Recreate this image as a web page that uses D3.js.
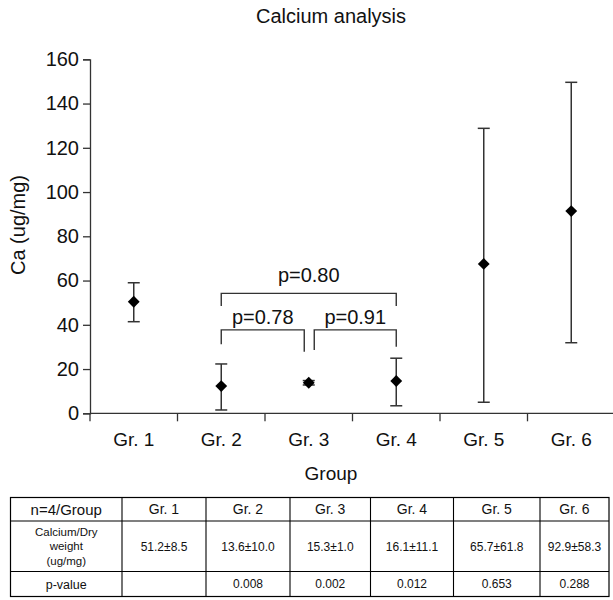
<!DOCTYPE html>
<html>
<head>
<meta charset="utf-8">
<script src="https://cdn.jsdelivr.net/npm/d3@7"></script>
<style>
  html, body { margin: 0; padding: 0; background: #fff; }
  svg { display: block; font-family: "Liberation Sans", Arial, Helvetica, sans-serif; }
</style>
</head>
<body>
<svg id="chart" width="613" height="600"></svg>
<script>
// ---------------- data ----------------
const groups = ["Gr. 1", "Gr. 2", "Gr. 3", "Gr. 4", "Gr. 5", "Gr. 6"];
const means  = [50.4, 12.3, 13.8, 14.6, 67.5, 91.4];
const upper  = [59.0, 22.3, 14.8, 24.9, 128.8, 149.6];
const lower  = [41.4, 1.5, 12.8, 3.4, 5.0, 31.9];
const yTicks = [0, 20, 40, 60, 80, 100, 120, 140, 160];

const chartTitle = "Calcium analysis";
const yTitle = "Ca (ug/mg)";
const xTitle = "Group";

// significance brackets (group indices, heights in data units)
const bracketFrom   = [1, 1, 2];
const bracketTo     = [3, 2, 3];
const bracketTop    = [54.2, 37.7, 37.7];
const bracketLegL   = [48.5, 31.2, 28.6];
const bracketLegR   = [48.5, 27.8, 30.1];
const bracketLabels = ["p=0.80", "p=0.78", "p=0.91"];
const bracketLabelY = [59.5, 40.4, 40.4];

// table
const tableCorner   = "n=4/Group";
const tableRowLabel = ["Calcium/Dry", "weight", "(ug/mg)"];
const tableValues   = ["51.2±8.5", "13.6±10.0", "15.3±1.0", "16.1±11.1", "65.7±61.8", "92.9±58.3"];
const pLabel        = "p-value";
const pValues       = ["", "0.008", "0.002", "0.012", "0.653", "0.288"];

// ---------------- drawing ----------------
const svg = d3.select("#chart");
const ink = "#111";
const lineInk = "#333";

const y = d3.scaleLinear().domain([0, 160]).range([413.3, 59.3]);
const x = d3.scaleBand().domain(groups).range([90, 615]).padding(0);
const cx = g => x(g) + x.bandwidth() / 2;

// title
svg.append("text")
  .attr("x", 331).attr("y", 23)
  .attr("text-anchor", "middle")
  .attr("font-size", 20).attr("fill", ink)
  .text(chartTitle);

// y axis
const yAxis = svg.append("g")
  .attr("transform", "translate(90,0)")
  .call(d3.axisLeft(y).tickValues(yTicks).tickSize(7).tickSizeOuter(7).tickPadding(4));
yAxis.selectAll("text").attr("font-size", 20).attr("fill", ink)
  .attr("font-family", "\"Liberation Sans\", Arial, sans-serif");
yAxis.selectAll("line, path").attr("stroke", lineInk).attr("stroke-width", 1.3);

// y title
svg.append("text")
  .attr("transform", "translate(25,225) rotate(-90)")
  .attr("text-anchor", "middle")
  .attr("font-size", 20).attr("fill", ink)
  .text(yTitle);

// x axis line
svg.append("line")
  .attr("x1", 90).attr("x2", 613)
  .attr("y1", y(0)).attr("y2", y(0))
  .attr("stroke", lineInk).attr("stroke-width", 1.3);

// separator ticks at band edges
svg.append("g").selectAll("line")
  .data(groups)
  .join("line")
  .attr("x1", g => x(g)).attr("x2", g => x(g))
  .attr("y1", y(0)).attr("y2", y(0) + 8)
  .attr("stroke", lineInk).attr("stroke-width", 1.3);

// x tick labels
const xAxis = svg.append("g")
  .attr("transform", `translate(0,${y(0)})`)
  .call(d3.axisBottom(x).tickSize(0).tickPadding(19));
xAxis.select(".domain").remove();
xAxis.selectAll("text").attr("font-size", 19).attr("fill", ink)
  .attr("font-family", "\"Liberation Sans\", Arial, sans-serif");

// x title
svg.append("text")
  .attr("x", 331).attr("y", 480)
  .attr("text-anchor", "middle")
  .attr("font-size", 19).attr("fill", ink)
  .text(xTitle);

// error bars
const eb = svg.append("g").attr("stroke", lineInk).attr("stroke-width", 1.5);
eb.selectAll("line.v").data(groups).join("line").attr("class", "v")
  .attr("x1", cx).attr("x2", cx)
  .attr("y1", (g, i) => y(upper[i])).attr("y2", (g, i) => y(lower[i]));
eb.selectAll("line.t").data(groups).join("line").attr("class", "t")
  .attr("x1", g => cx(g) - 6).attr("x2", g => cx(g) + 6)
  .attr("y1", (g, i) => y(upper[i])).attr("y2", (g, i) => y(upper[i]));
eb.selectAll("line.b").data(groups).join("line").attr("class", "b")
  .attr("x1", g => cx(g) - 6).attr("x2", g => cx(g) + 6)
  .attr("y1", (g, i) => y(lower[i])).attr("y2", (g, i) => y(lower[i]));

// diamond markers
const diamond = d3.symbol().type(d3.symbolSquare).size(70);
svg.append("g").selectAll("path")
  .data(groups)
  .join("path")
  .attr("d", diamond)
  .attr("transform", (g, i) => `translate(${cx(g)},${y(means[i])}) rotate(45)`)
  .attr("fill", "#000");

// brackets
const bracketEnd = (gi, side, k) => {
  // brackets meeting at Gr. 3 leave a small gap around its centre
  const c = cx(groups[gi]);
  if (gi === 2 && bracketFrom[k] !== bracketTo[k] - 2) return side === "L" ? c + 5.5 : c - 4.5;
  return c;
};
const br = svg.append("g");
bracketLabels.forEach((lab, k) => {
  const xl = bracketEnd(bracketFrom[k], "L", k);
  const xr = bracketEnd(bracketTo[k], "R", k);
  const p = d3.path();
  p.moveTo(xl, y(bracketLegL[k]));
  p.lineTo(xl, y(bracketTop[k]));
  p.lineTo(xr, y(bracketTop[k]));
  p.lineTo(xr, y(bracketLegR[k]));
  br.append("path").attr("d", p.toString())
    .attr("fill", "none").attr("stroke", lineInk).attr("stroke-width", 1.4);
  br.append("text")
    .attr("x", (xl + xr) / 2).attr("y", y(bracketLabelY[k]))
    .attr("text-anchor", "middle")
    .attr("font-size", 20).attr("fill", ink)
    .text(lab);
});

// ---------------- table ----------------
const colEdges = [10.5, 122, 206, 290, 370.5, 453.5, 540, 609];
const rowEdges = [497.5, 521, 571.5, 596.5];
const tb = svg.append("g");

// grid
tb.append("rect")
  .attr("x", colEdges[0]).attr("y", rowEdges[0])
  .attr("width", colEdges[colEdges.length - 1] - colEdges[0])
  .attr("height", rowEdges[rowEdges.length - 1] - rowEdges[0])
  .attr("fill", "none").attr("stroke", "#000").attr("stroke-width", 1.2);
tb.selectAll("line.c").data(colEdges.slice(1, -1)).join("line").attr("class", "c")
  .attr("x1", d => d).attr("x2", d => d)
  .attr("y1", rowEdges[0]).attr("y2", rowEdges[3])
  .attr("stroke", "#000").attr("stroke-width", 1.1);
tb.selectAll("line.r").data(rowEdges.slice(1, -1)).join("line").attr("class", "r")
  .attr("x1", colEdges[0]).attr("x2", colEdges[colEdges.length - 1])
  .attr("y1", d => d).attr("y2", d => d)
  .attr("stroke", "#000").attr("stroke-width", 1.1);

const colMid = i => (colEdges[i] + colEdges[i + 1]) / 2;
const rowMid = r => (rowEdges[r] + rowEdges[r + 1]) / 2;

// header row
tb.append("text").attr("x", colMid(0)).attr("y", rowMid(0)).attr("dy", "0.36em")
  .attr("text-anchor", "middle").attr("font-size", 15).attr("fill", ink).text(tableCorner);
tb.selectAll("text.h").data(groups).join("text").attr("class", "h")
  .attr("x", (g, i) => colMid(i + 1)).attr("y", rowMid(0)).attr("dy", "0.36em")
  .attr("text-anchor", "middle").attr("font-size", 14).attr("fill", ink).text(g => g);

// value row
tb.selectAll("text.rl").data(tableRowLabel).join("text").attr("class", "rl")
  .attr("x", colMid(0)).attr("y", (d, i) => rowMid(1) + (i - 1) * 14.5).attr("dy", "0.36em")
  .attr("text-anchor", "middle").attr("font-size", 11.5).attr("fill", ink).text(d => d);
tb.selectAll("text.v").data(tableValues).join("text").attr("class", "v")
  .attr("x", (d, i) => colMid(i + 1)).attr("y", rowMid(1)).attr("dy", "0.36em")
  .attr("text-anchor", "middle").attr("font-size", 12).attr("fill", ink).text(d => d);

// p-value row
tb.append("text").attr("x", colMid(0)).attr("y", rowMid(2)).attr("dy", "0.36em")
  .attr("text-anchor", "middle").attr("font-size", 12.5).attr("fill", ink).text(pLabel);
tb.selectAll("text.p").data(pValues).join("text").attr("class", "p")
  .attr("x", (d, i) => colMid(i + 1)).attr("y", rowMid(2)).attr("dy", "0.36em")
  .attr("text-anchor", "middle").attr("font-size", 12).attr("fill", ink).text(d => d);
</script>
</body>
</html>
